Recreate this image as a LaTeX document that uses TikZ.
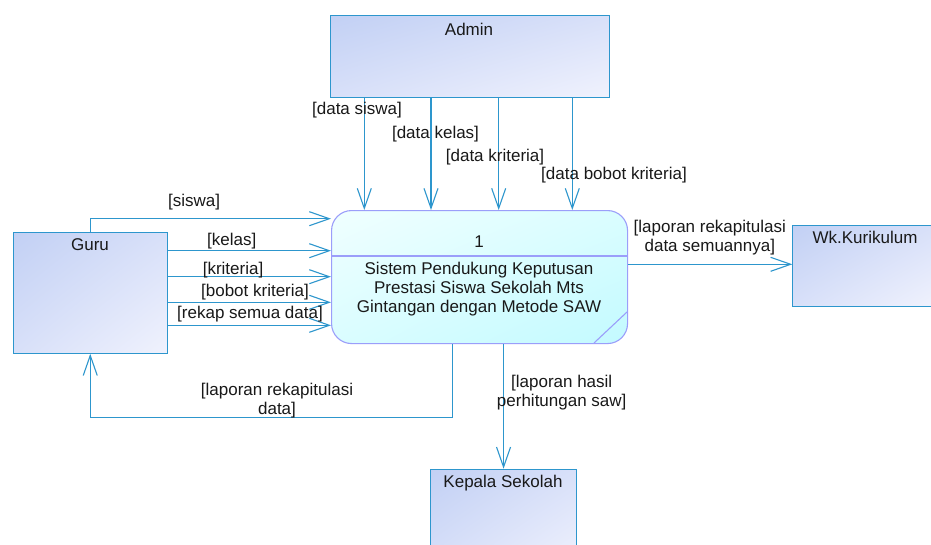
\documentclass[tikz,border=0pt]{standalone}
\usepackage{fontspec}
\setmainfont{Liberation Sans}
\usetikzlibrary{arrows.meta,shadings}
\definecolor{linec}{RGB}{45,150,205}
\definecolor{entA}{RGB}{194,208,244}
\definecolor{entB}{RGB}{240,242,253}
\definecolor{entM}{RGB}{216,224,249}
\definecolor{procA}{RGB}{240,255,255}
\definecolor{procB}{RGB}{195,250,255}
\definecolor{procM}{RGB}{218,253,255}
\definecolor{procline}{RGB}{155,158,250}
\definecolor{txt}{RGB}{25,25,25}
\begin{document}
\begin{tikzpicture}[x=1pt,y=-1pt,
  every node/.style={font=\fontsize{17}{19}\selectfont, text=txt},
  entity/.style={draw=linec, line width=1.1pt, rectangle, anchor=north west, inner sep=0pt,
    upper left=entA, upper right=entM, lower left=entM, lower right=entB},
  procbox/.style={draw=procline, line width=1.1pt, rounded corners=20pt, anchor=north west, inner sep=0pt,
    upper left=procA, upper right=procM, lower left=procM, lower right=procB},
  flow/.style={draw=linec, line width=1.1pt, -{Straight Barb[length=20pt,width=14pt,line width=1.1pt]}},
  lbl/.style={inner sep=0pt, align=center}
]
\clip (0,0) rectangle (931,544);
\fill[white] (0,0) rectangle (931,544);

% boxes
\node[entity, minimum width=279pt, minimum height=82pt] (admin) at (330,15) {};
\node[entity, minimum width=154pt, minimum height=121pt] (guru) at (12.7,231.7) {};
\node[entity, minimum width=140pt, minimum height=81pt] (wk) at (792.3,225) {};
\node[entity, minimum width=146pt, minimum height=100pt] (kepala) at (430,468.7) {};
\node[procbox, minimum width=296pt, minimum height=133pt] (proc) at (331,210) {};

% box texts
\node[lbl] (tadmin) at (469,29) {Admin};
\node[lbl] (tguru) at (90,245) {Guru};
\node[lbl] (twk) at (865,237.3) {Wk.Kurikulum};
\node[lbl] (tkepala) at (503,482.7) {Kepala Sekolah};
\node[lbl] (tnum) at (479,242) {1};
\node[lbl] (tproc) at (479,289) {Sistem Pendukung Keputusan\\Prestasi Siswa Sekolah Mts\\Gintangan dengan Metode SAW};

% process decorations
\coordinate (dv) at (0,256);
\draw[procline, line width=1.1pt] (proc.west |- dv) -- (proc.east |- dv);
\coordinate (cA) at (594,343);
\coordinate (cB) at (627,312);
\draw[procline, line width=1.1pt] (cA) -- (cB);

% Admin flows
\coordinate (a1) at (364.3,0);
\coordinate (a2) at (431,0);
\coordinate (a3) at (498.7,0);
\coordinate (a4) at (572.3,0);
\draw[flow] (admin.south -| a1) -- (proc.north -| a1);
\draw[flow] (admin.south -| a2) -- (proc.north -| a2);
\draw[flow] (admin.south -| a3) -- (proc.north -| a3);
\draw[flow] (admin.south -| a4) -- (proc.north -| a4);
\node[lbl] (l1) at (357,110) {[data siswa]};
\node[lbl] (l2) at (435.5,134) {[data kelas]};
\node[lbl] (l3) at (495,157.3) {[data kriteria]};
\node[lbl] (l4) at (614,175) {[data bobot kriteria]};

% Guru flows
\coordinate (g1) at (0,218.7);
\coordinate (g2) at (0,250.7);
\coordinate (g3) at (0,276.7);
\coordinate (g4) at (0,302.3);
\coordinate (g5) at (0,325.3);
\draw[flow] (guru.north) -- (guru.north |- g1) -- (proc.west |- g1);
\draw[flow] (guru.east |- g2) -- (proc.west |- g2);
\draw[flow] (guru.east |- g3) -- (proc.west |- g3);
\draw[flow] (guru.east |- g4) -- (proc.west |- g4);
\draw[flow] (guru.east |- g5) -- (proc.west |- g5);
\node[lbl] (m1) at (194,202) {[siswa]};
\node[lbl] (m2) at (231.7,240.7) {[kelas]};
\node[lbl] (m3) at (233,270) {[kriteria]};
\node[lbl] (m4) at (255,291.7) {[bobot kriteria]};
\node[lbl] (m5) at (250,314) {[rekap semua data]};

% return to Guru
\coordinate (r1) at (452.7,0);
\coordinate (rb) at (0,417.3);
\draw[flow] (proc.south -| r1) -- (r1 |- rb) -- (guru.south |- rb) -- (guru.south);
\node[lbl] (n1) at (277,401) {[laporan rekapitulasi\\data]};

% to Kepala Sekolah
\draw[flow] (proc.south -| kepala.north) -- (kepala.north);
\node[lbl] (n2) at (561.7,393) {[laporan hasil\\perhitungan saw]};

% to Wk.Kurikulum
\coordinate (w1) at (0,264.3);
\draw[flow] (proc.east |- w1) -- (wk.west |- w1);
\node[lbl] (n3) at (709.8,237.4) {[laporan rekapitulasi\\data semuannya]};
\end{tikzpicture}
\end{document}
